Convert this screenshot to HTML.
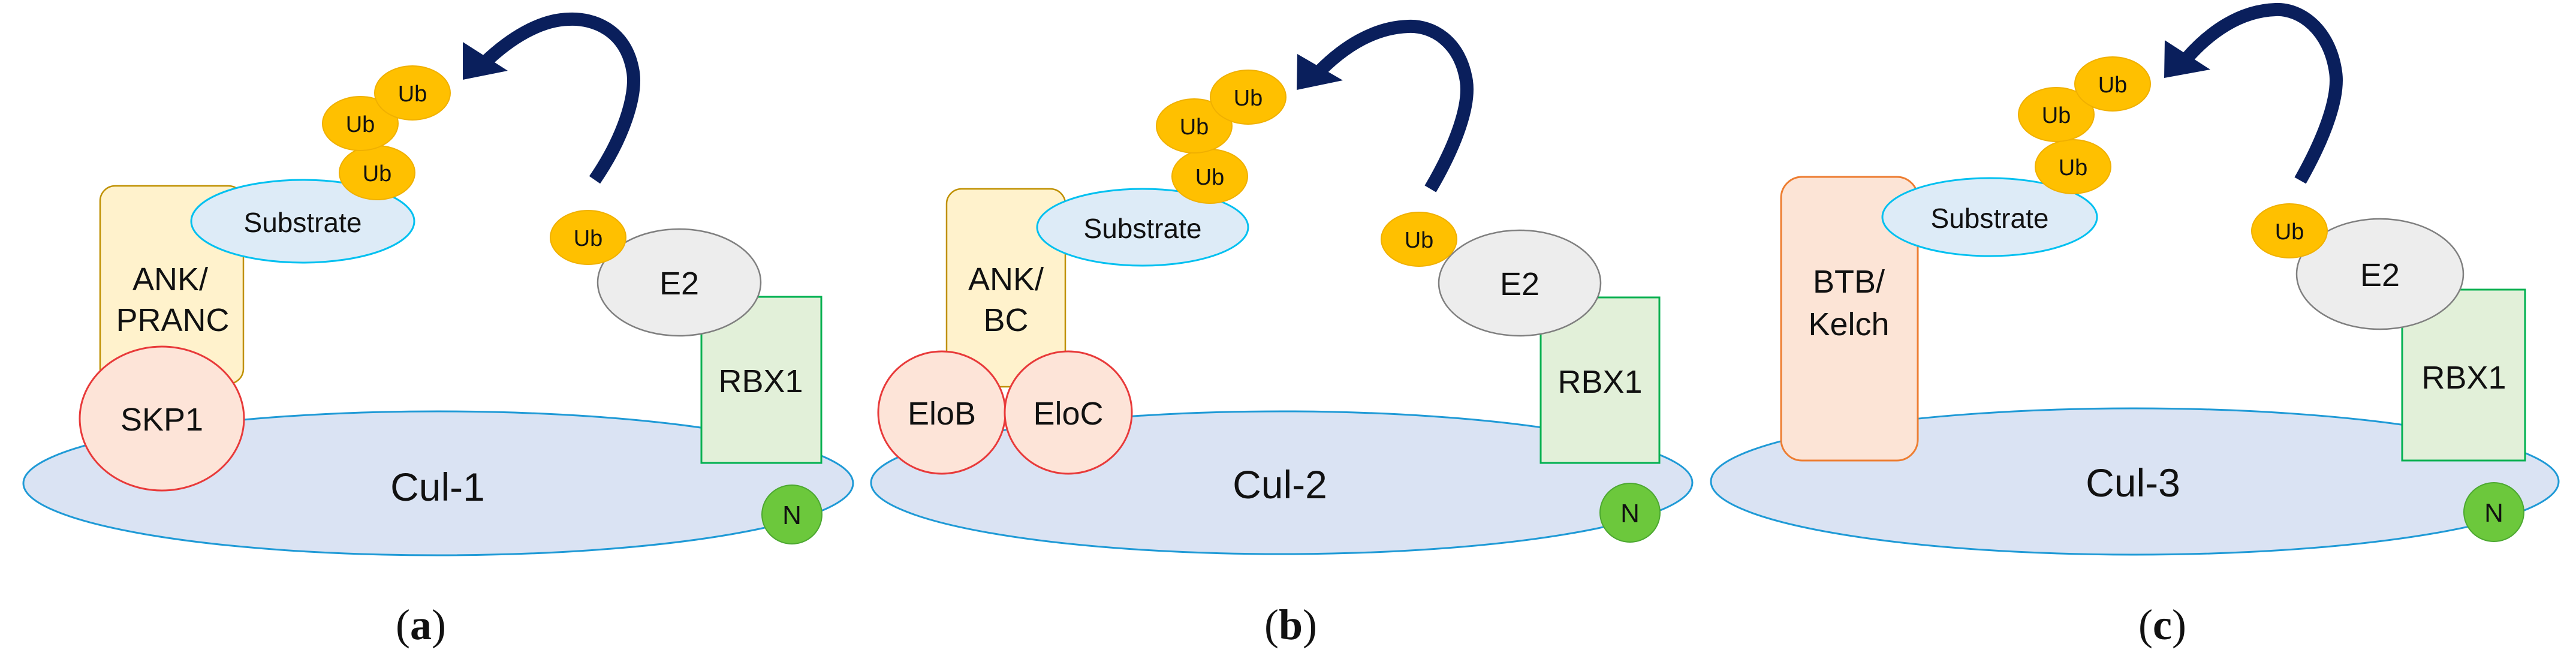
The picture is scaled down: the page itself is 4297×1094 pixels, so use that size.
<!DOCTYPE html>
<html><head><meta charset="utf-8"><style>
html,body{margin:0;padding:0;background:#fff;}
svg{display:block;}
text{font-family:"Liberation Sans",sans-serif;fill:#111;text-anchor:middle;}
.cul{fill:#dae3f3;stroke:#1f9ad6;stroke-width:3;}
.sub{fill:#ddebf7;stroke:#00c0f0;stroke-width:3;}
.ub{fill:#ffc000;stroke:#f0b000;stroke-width:2;}
.e2{fill:#ededed;stroke:#7f7f7f;stroke-width:2.5;}
.rbx{fill:#e2f0d9;stroke:#00b050;stroke-width:3;}
.n{fill:#6cc83c;stroke:#4ca830;stroke-width:2;}
.skp{fill:#fde4d8;stroke:#e83a3a;stroke-width:3;}
.ank{fill:#fff2cc;stroke:#bf9000;stroke-width:2.5;}
.btb{fill:#fce4d6;stroke:#ed7d31;stroke-width:3;}
.arr{fill:none;stroke:#0a1f5c;stroke-width:22;}
.head{fill:#0a1f5c;}
.cap{font-family:"Liberation Serif",serif;font-size:72px;}
</style></head><body>
<svg width="4297" height="1094" viewBox="0 0 4297 1094" xmlns="http://www.w3.org/2000/svg">
<!-- Panel a -->
<ellipse class="cul" cx="731" cy="806" rx="692" ry="120"/>
<rect class="ank" x="167" y="310" width="239" height="330" rx="25"/>
<ellipse class="skp" cx="270" cy="698" rx="137" ry="120"/>
<ellipse class="sub" cx="505" cy="369" rx="186" ry="69"/>
<ellipse class="ub" cx="629" cy="288" rx="63" ry="45"/>
<ellipse class="ub" cx="601" cy="206" rx="63" ry="45"/>
<ellipse class="ub" cx="688" cy="155" rx="63" ry="45"/>
<path class="arr" d="M992,300 C1040,230 1062,160 1056,120 C1045,50 990,30 949,32 C900,33 850,65 810,103"/>
<polygon class="head" points="772,133 772,70 847,118"/>
<rect class="rbx" x="1170" y="495" width="200" height="277"/>
<ellipse class="e2" cx="1133" cy="471" rx="136" ry="89"/>
<ellipse class="ub" cx="981" cy="396" rx="63" ry="45"/>
<ellipse class="n" cx="1321" cy="858" rx="50" ry="49"/>
<text x="284" y="484" font-size="54">ANK/</text>
<text x="288" y="552" font-size="54">PRANC</text>
<text x="270" y="718" font-size="54">SKP1</text>
<text x="505" y="387" font-size="46">Substrate</text>
<text x="629" y="302" font-size="38">Ub</text>
<text x="601" y="220" font-size="38">Ub</text>
<text x="688" y="169" font-size="38">Ub</text>
<text x="981" y="410" font-size="38">Ub</text>
<text x="1133" y="491" font-size="54">E2</text>
<text x="1269" y="654" font-size="54">RBX1</text>
<text x="730" y="835" font-size="66">Cul-1</text>
<text x="1321" y="874" font-size="44">N</text>
<text class="cap" x="702" y="1066">(<tspan font-weight="bold">a</tspan>)</text>

<!-- Panel b -->
<ellipse class="cul" cx="2138" cy="805" rx="685" ry="119"/>
<rect class="ank" x="1579" y="315" width="198" height="330" rx="25"/>
<ellipse class="skp" cx="1571" cy="688" rx="106" ry="102"/>
<ellipse class="skp" cx="1782" cy="688" rx="106" ry="102"/>
<ellipse class="sub" cx="1906" cy="379" rx="176" ry="64"/>
<ellipse class="ub" cx="2018" cy="294" rx="63" ry="45"/>
<ellipse class="ub" cx="1992" cy="210" rx="63" ry="45"/>
<ellipse class="ub" cx="2082" cy="162" rx="63" ry="45"/>
<path class="arr" d="M2386,315 C2430,240 2452,175 2446,135 C2436,70 2390,42 2349,44 C2290,46 2240,80 2202,118"/>
<polygon class="head" points="2163,150 2164,90 2240,134"/>
<rect class="rbx" x="2570" y="496" width="198" height="276"/>
<ellipse class="e2" cx="2535" cy="472" rx="135" ry="88"/>
<ellipse class="ub" cx="2367" cy="399" rx="63" ry="45"/>
<ellipse class="n" cx="2719" cy="855" rx="50" ry="49"/>
<text x="1678" y="484" font-size="54">ANK/</text>
<text x="1678" y="552" font-size="54">BC</text>
<text x="1571" y="708" font-size="54">EloB</text>
<text x="1782" y="708" font-size="54">EloC</text>
<text x="1906" y="397" font-size="46">Substrate</text>
<text x="2018" y="308" font-size="38">Ub</text>
<text x="1992" y="224" font-size="38">Ub</text>
<text x="2082" y="176" font-size="38">Ub</text>
<text x="2367" y="413" font-size="38">Ub</text>
<text x="2535" y="492" font-size="54">E2</text>
<text x="2669" y="655" font-size="54">RBX1</text>
<text x="2135" y="831" font-size="66">Cul-2</text>
<text x="2719" y="871" font-size="44">N</text>
<text class="cap" x="2153" y="1066">(<tspan font-weight="bold">b</tspan>)</text>

<!-- Panel c -->
<ellipse class="cul" cx="3561" cy="803" rx="707" ry="122"/>
<rect class="btb" x="2971" y="295" width="228" height="473" rx="35"/>
<ellipse class="sub" cx="3319" cy="362" rx="179" ry="65"/>
<ellipse class="ub" cx="3458" cy="278" rx="63" ry="45"/>
<ellipse class="ub" cx="3430" cy="191" rx="63" ry="45"/>
<ellipse class="ub" cx="3524" cy="140" rx="63" ry="45"/>
<path class="arr" d="M3837,301 C3880,225 3902,160 3896,120 C3886,50 3838,14 3796,16 C3735,18 3685,55 3648,97"/>
<polygon class="head" points="3610,130 3611,67 3687,116"/>
<rect class="rbx" x="4007" y="483" width="205" height="285"/>
<ellipse class="e2" cx="3970" cy="457" rx="139" ry="92"/>
<ellipse class="ub" cx="3819" cy="385" rx="63" ry="45"/>
<ellipse class="n" cx="4160" cy="854" rx="50" ry="49"/>
<text x="3084" y="488" font-size="54">BTB/</text>
<text x="3084" y="559" font-size="54">Kelch</text>
<text x="3319" y="380" font-size="46">Substrate</text>
<text x="3458" y="292" font-size="38">Ub</text>
<text x="3430" y="205" font-size="38">Ub</text>
<text x="3524" y="154" font-size="38">Ub</text>
<text x="3819" y="399" font-size="38">Ub</text>
<text x="3970" y="477" font-size="54">E2</text>
<text x="4110" y="648" font-size="54">RBX1</text>
<text x="3558" y="828" font-size="66">Cul-3</text>
<text x="4160" y="870" font-size="44">N</text>
<text class="cap" x="3607" y="1066">(<tspan font-weight="bold">c</tspan>)</text>
</svg>
</body></html>
